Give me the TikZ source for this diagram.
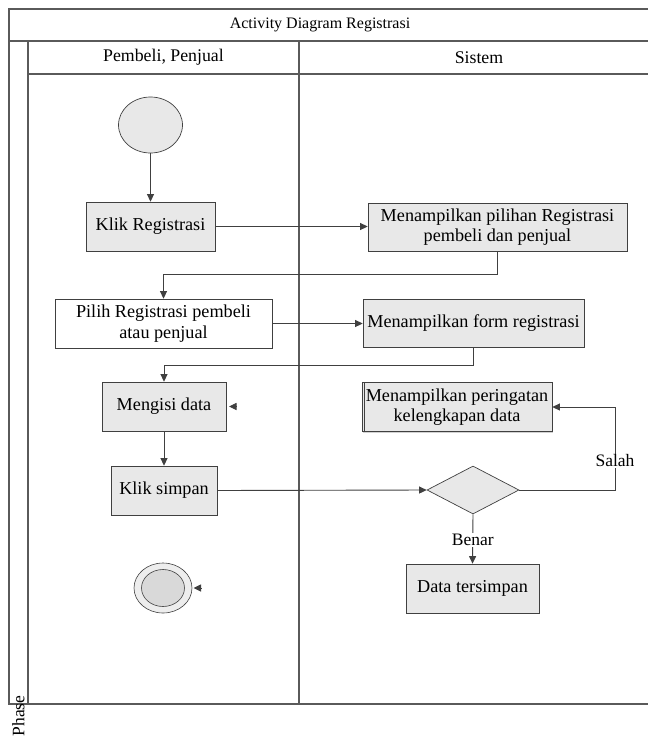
\documentclass[tikz,border=0pt]{standalone}
\usepackage{fontspec}
\setmainfont{Liberation Serif}
\usetikzlibrary{arrows.meta,shapes.geometric,shadows}

\definecolor{frameline}{HTML}{5A5A5A}
\definecolor{boxline}{HTML}{404040}
\definecolor{boxfill}{HTML}{E8E8E8}
\definecolor{wireline}{HTML}{404040}

\tikzset{
  frame/.style={draw=frameline, line width=1.1pt},
  actbox/.style={rectangle, draw=boxline, line width=0.7pt, fill=boxfill,
    align=center, inner sep=0pt, font=\fontsize{18.2}{20.5}\selectfont,
    drop shadow={shadow xshift=1.3pt, shadow yshift=-1.3pt, fill=black!30, opacity=0.6}},
  plainbox/.style={actbox, fill=white},
  wire/.style={draw=wireline, line width=0.9pt},
  arr/.style={wire, -{Triangle[length=7.5pt, width=7pt]}},
  lbl/.style={fill=white, inner sep=1pt, font=\fontsize{17.5}{20}\selectfont},
  hdr/.style={font=\fontsize{17.8}{20}\selectfont, inner sep=0pt},
}

\begin{document}
\begin{tikzpicture}[x=1pt, y=-1pt]
\useasboundingbox (0,0) rectangle (648,737);

% swimlane frame (open to the right)
\draw[frame] (648,9) -- (9,9) -- (9,704) -- (648,704);
\draw[frame] (9,41) -- (648,41);
\draw[frame] (28,74) -- (648,74);
\draw[frame] (28,41) -- (28,704);
\draw[frame] (299,41) -- (299,704);

% headers
\node[hdr, font=\fontsize{16}{18}\selectfont] (title) at (320,25) {Activity Diagram Registrasi};
\node[hdr] (lane1) at (163.5,57.5) {Pembeli, Penjual};
\node[hdr] (lane2) at (479,57.5) {Sistem};
\node[hdr, font=\fontsize{17.5}{20}\selectfont, rotate=90] (phase) at (18.5,716) {Phase};

% start node
\node[ellipse, draw=boxline, line width=0.7pt, fill=boxfill,
      minimum width=64pt, minimum height=56pt, inner sep=0pt] (start) at (150.5,125) {};

% activities
\node[actbox, minimum width=129pt, minimum height=49pt] (klik) at (150.5,226.5) {Klik Registrasi};
\node[actbox, minimum width=259pt, minimum height=48pt] (pilihan) at (497.5,227)
  {Menampilkan pilihan Registrasi\\pembeli dan penjual};
\node[plainbox, minimum width=217pt, minimum height=49pt] (pilih) at (163.5,323.5)
  {Pilih Registrasi pembeli\\atau penjual};
\node[actbox, minimum width=221pt, minimum height=48pt] (form) at (473.5,323)
  {Menampilkan form registrasi};
\node[actbox, minimum width=124pt, minimum height=49pt] (mengisi) at (164,406.5) {Mengisi data};
\node[actbox, minimum width=190pt, minimum height=49pt] (peringatan) at (457,407)
  {Menampilkan peringatan\\kelengkapan data};
\draw[draw=boxline, line width=0.6pt] ([xshift=2.5pt]peringatan.north west) -- ([xshift=2.5pt]peringatan.south west);
\node[actbox, minimum width=106pt, minimum height=49pt] (simpan) at (164,490.5) {Klik simpan};
\node[diamond, draw=boxline, line width=0.7pt, fill=boxfill, aspect=1.9,
      minimum width=92pt, minimum height=48pt, inner sep=0pt] (cek) at (473,490) {};
\node[actbox, minimum width=133pt, minimum height=49pt] (data) at (472.5,588.5) {Data tersimpan};

% end node
\node[ellipse, draw=boxline, line width=0.6pt, fill=boxfill!80!white,
      minimum width=58pt, minimum height=50pt, inner sep=0pt] (final) at (163,588) {};
\node[ellipse, draw=boxline, line width=0.6pt, fill=black!15,
      minimum width=43pt, minimum height=37pt, inner sep=0pt] (finalin) at (163,588) {};

% flows
\draw[arr] (start) -- (klik);
\draw[arr] (klik) -- (pilihan.west |- klik.east);
\draw[arr] (pilihan.south) -- ++(0,23) -| (pilih.north);
\draw[arr] (pilih.east) -- (form.west |- pilih.east);
\draw[arr] (form.south) -- ++(0,18) -| (mengisi.north);
\draw[arr] (mengisi) -- (simpan);
\draw[arr] (simpan.east) -- (cek.west);
\draw[arr] (cek.east) -- (615,490) coordinate (bend) |- (peringatan.east);
\node[lbl] (salah) at (615,461) {Salah};
\draw[arr] (cek.south) -- (data.north) node[lbl, pos=0.52] (benar) {Benar};

% loose arrow tips
\coordinate (m1) at (236.5,406.5);
\coordinate (m2) at (229,406.5);
\draw[arr] (m1) -- (m2);
\coordinate (e1) at (201.5,588);
\coordinate (e2) at (193.5,588);
\draw[arr] (e1) -- (e2);
\end{tikzpicture}
\end{document}
